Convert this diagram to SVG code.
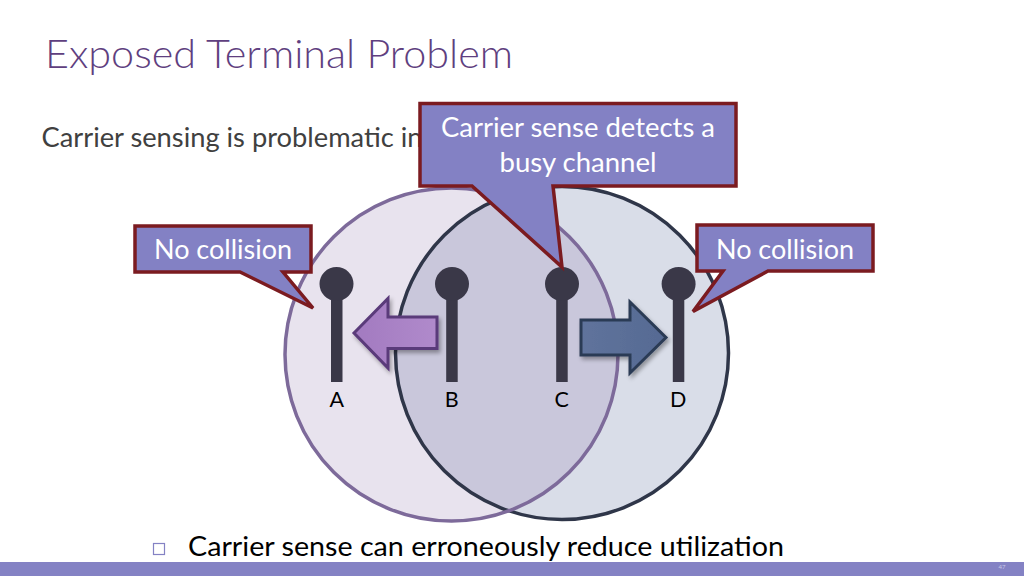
<svg xmlns="http://www.w3.org/2000/svg" width="1024" height="576" viewBox="0 0 1024 576">
  <defs>
    <style>
      .txt { font-family: Lato, "Open Sans", "Liberation Sans", sans-serif; }
      .callout { fill: #8381c4; stroke: #7b1b20; stroke-width: 3.5; stroke-linejoin: miter; }
      .ctext { fill: #ffffff; font-size: 26px; text-anchor: middle; }
      .head { fill: #3a3848; }
      .stem { fill: #3a3848; }
      .lbl { fill: #000000; font-size: 21.5px; text-anchor: middle; }
    </style>
    <linearGradient id="gPurple" x1="0" y1="0" x2="1" y2="0">
      <stop offset="0" stop-color="#a27ac0"/>
      <stop offset="1" stop-color="#b08acb"/>
    </linearGradient>
    <linearGradient id="gBlue" x1="0" y1="0" x2="1" y2="0">
      <stop offset="0" stop-color="#5f739c"/>
      <stop offset="1" stop-color="#566a93"/>
    </linearGradient>
    <filter id="shadow" x="-20%" y="-20%" width="150%" height="150%">
      <feGaussianBlur in="SourceAlpha" stdDeviation="2"/>
      <feOffset dx="2" dy="3" result="b"/>
      <feComponentTransfer><feFuncA type="linear" slope="0.35"/></feComponentTransfer>
      <feMerge><feMergeNode/><feMergeNode in="SourceGraphic"/></feMerge>
    </filter>
  </defs>

  <rect x="0" y="0" width="1024" height="576" fill="#ffffff"/>

  <!-- Title & subtitle -->
  <text class="txt" x="45" y="68" font-size="39" font-weight="300" fill="#5f3f80" textLength="468" lengthAdjust="spacingAndGlyphs">Exposed Terminal Problem</text>
  <text class="txt" x="41.5" y="146.5" font-size="26" fill="#404040" textLength="381" lengthAdjust="spacingAndGlyphs">Carrier sensing is problematic in</text>

  <!-- Ranges -->
  <g id="ranges">
    <circle cx="562" cy="353" r="166.5" fill="#d9dde8"/>
    <circle cx="451.5" cy="354.5" r="166.5" fill="#8064a2" fill-opacity="0.18"/>
    <circle cx="562" cy="353" r="166.5" fill="none" stroke="#2f3649" stroke-width="3.5"/>
    <circle cx="451.5" cy="354.5" r="166.5" fill="none" stroke="#7d6a9a" stroke-width="3.5"/>
  </g>

  <!-- Stations -->
  <g id="station-A">
    <rect class="stem" x="331" y="284" width="11.5" height="98"/>
    <circle class="head" cx="336.5" cy="284" r="17"/>
    <text class="txt lbl" x="336.7" y="406.5">A</text>
  </g>
  <g id="station-B">
    <rect class="stem" x="446.2" y="284" width="11.5" height="98"/>
    <circle class="head" cx="452" cy="284" r="17"/>
    <text class="txt lbl" x="451.7" y="406.5">B</text>
  </g>
  <g id="station-C">
    <rect class="stem" x="556.2" y="284" width="11.5" height="98"/>
    <circle class="head" cx="562" cy="284" r="17"/>
    <text class="txt lbl" x="561.7" y="406.5">C</text>
  </g>
  <g id="station-D">
    <rect class="stem" x="672.8" y="284" width="11.5" height="98"/>
    <circle class="head" cx="678.6" cy="284" r="17"/>
    <text class="txt lbl" x="678.3" y="406.5">D</text>
  </g>

  <!-- Transmissions -->
  <g id="connectors">
    <polygon points="354,333 388,298.5 388,317 437,317 437,348.5 388,348.5 388,368" fill="url(#gPurple)" stroke="#5a3a7a" stroke-width="3" stroke-linejoin="miter" filter="url(#shadow)"/>
    <polygon points="581,320 630,320 630,302 666,337.5 630,373 630,355 581,355" fill="url(#gBlue)" stroke="#2b3a55" stroke-width="3" stroke-linejoin="miter" filter="url(#shadow)"/>
  </g>

  <!-- Callouts -->
  <g id="callout-top">
    <path class="callout" d="M420,103.5 H736 V186 H553 L562,267 L472,186 H420 Z"/>
    <text class="txt ctext" x="578" y="137" textLength="274" lengthAdjust="spacingAndGlyphs">Carrier sense detects a</text>
    <text class="txt ctext" x="578" y="172" textLength="157" lengthAdjust="spacingAndGlyphs">busy channel</text>
  </g>
  <g id="callout-left">
    <path class="callout" d="M135,226 H311 V272 H283 L313,308 L240,272 H135 Z"/>
    <text class="txt ctext" x="223" y="259" textLength="138" lengthAdjust="spacingAndGlyphs">No collision</text>
  </g>
  <g id="callout-right">
    <path class="callout" d="M697,225 H873 V271 H768 L693,311.5 L723,271 H697 Z"/>
    <text class="txt ctext" x="785" y="258.5" textLength="138" lengthAdjust="spacingAndGlyphs">No collision</text>
  </g>

  <!-- Bullet -->
  <g id="bullet">
    <rect x="153.5" y="543.5" width="11" height="11" fill="none" stroke="#8482c4" stroke-width="1.2"/>
    <text class="txt" x="188" y="555.5" font-size="26" fill="#000000" textLength="596" lengthAdjust="spacingAndGlyphs">Carrier sense can erroneously reduce utilization</text>
  </g>

  <!-- Footer bar -->
  <rect x="0" y="562" width="1024" height="14" fill="#8482c4"/>
  <text class="txt" x="1002" y="569" font-size="6" fill="#c9c8e6" text-anchor="middle">47</text>
</svg>
